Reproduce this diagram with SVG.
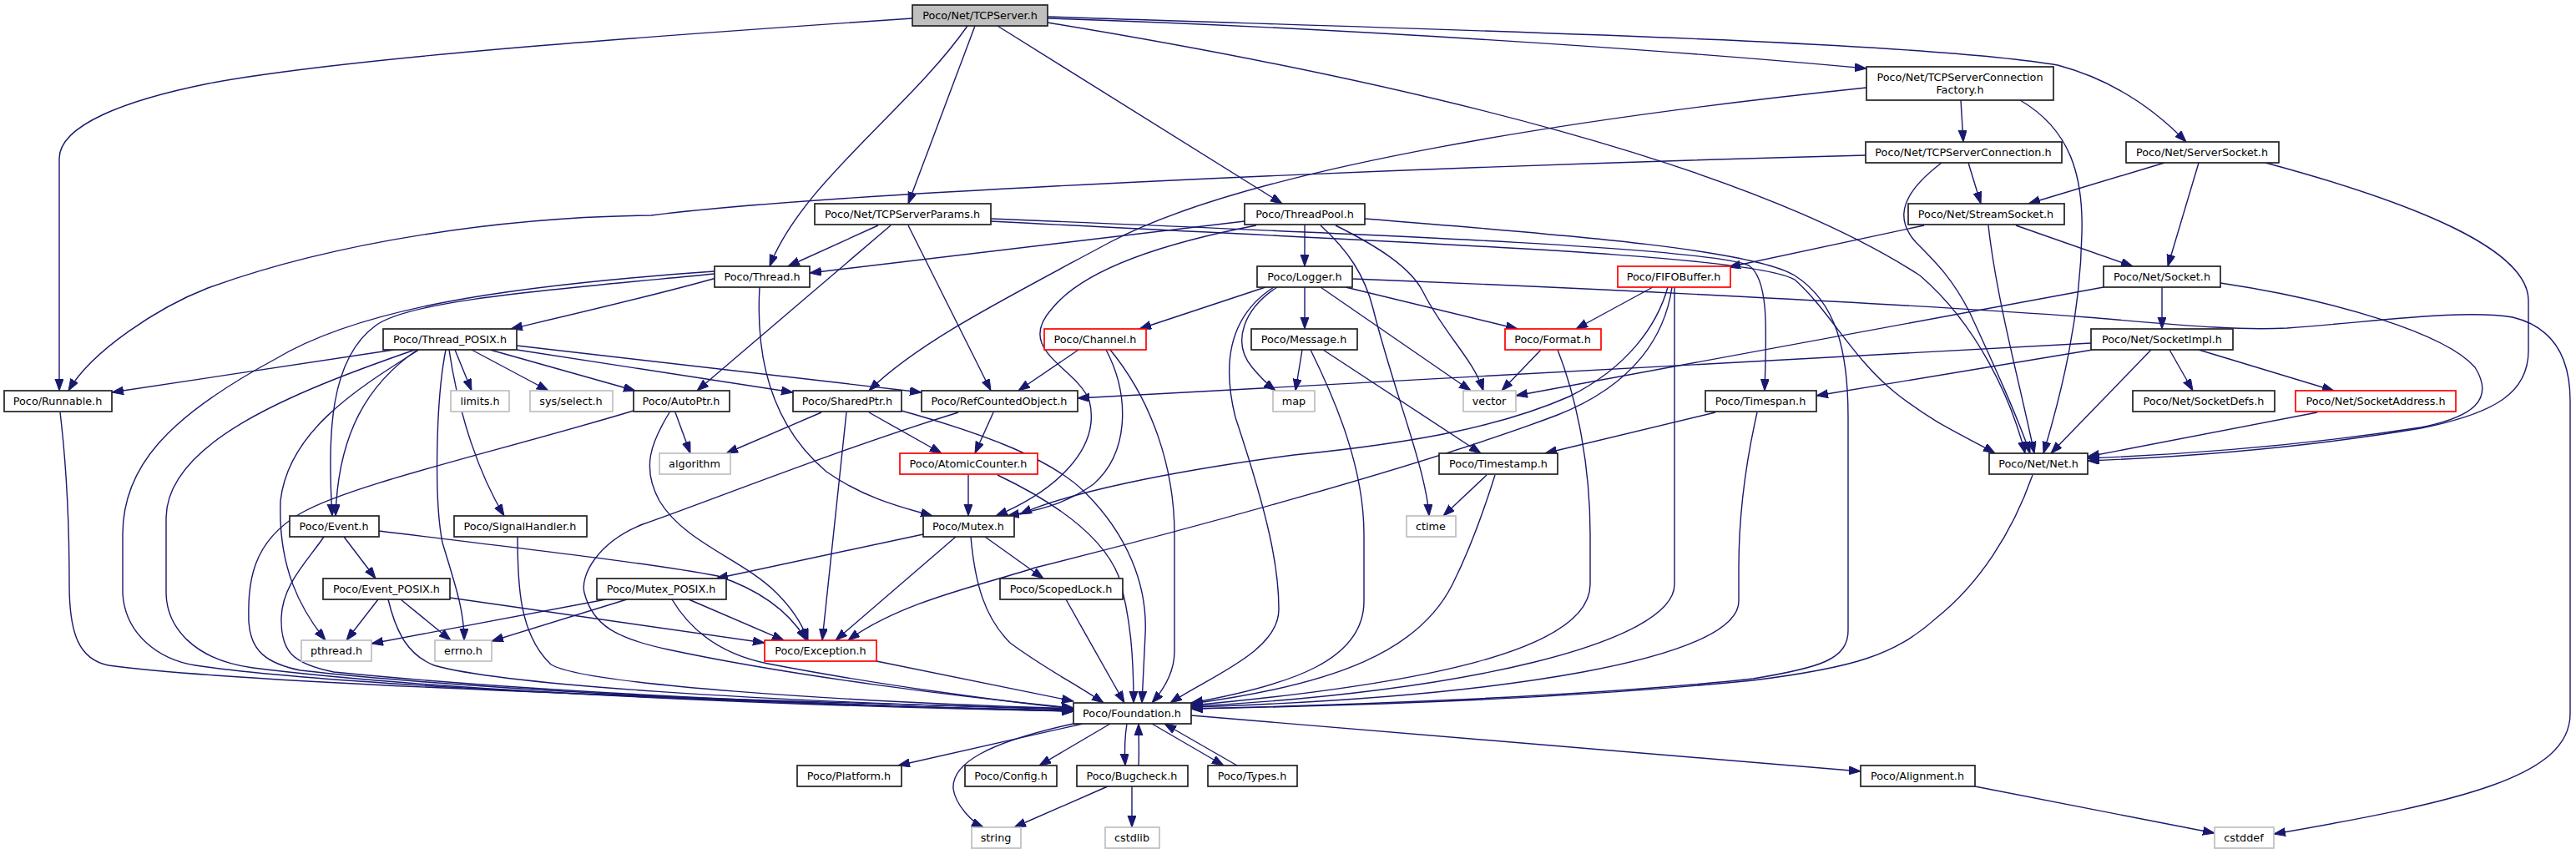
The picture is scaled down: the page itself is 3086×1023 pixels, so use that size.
<svg xmlns="http://www.w3.org/2000/svg" width="3086" height="1023" viewBox="0 0 3086 1023">
<style>
.nd rect{fill:#ffffff;stroke:#222222;stroke-width:1.7}
.nd.red rect{stroke:#ff0000}
.nd.sys rect{stroke:#bfbfbf}
.nd.root rect{fill:#bfbfbf}
.nd text{font-family:"DejaVu Sans","Liberation Sans",sans-serif;font-size:12.8px;fill:#000000;text-anchor:middle}
#edges path{fill:none;stroke:#191970;stroke-width:1.4;marker-end:url(#arr)}
</style>
<defs>
<marker id="arr" markerUnits="userSpaceOnUse" markerWidth="16" markerHeight="12" refX="14" refY="5" orient="auto">
<path d="M0,0 L14,5 L0,10 z" fill="#191970" stroke="#191970" stroke-width="1"/>
</marker>
</defs>
<rect x="0" y="0" width="3086" height="1023" fill="#ffffff"/>
<g id="edges">
<path d="M1093,22 C800,42 420,68 250,100 C150,120 71,150 71,190 L71,468"/>
<path d="M1159,31 C1090,130 960,220 922,319"/>
<path d="M1168,31 L1088,244"/>
<path d="M1195,31 L1536,244"/>
<path d="M1255,22 C1600,33 2000,60 2236,82"/>
<path d="M1255,20 C1800,38 2300,50 2465,78 C2540,98 2590,140 2619,170"/>
<path d="M1255,27 C1700,100 2100,200 2300,330 C2370,390 2410,480 2426,543"/>
<path d="M2349,120 L2352,170"/>
<path d="M2236,105 C1900,140 1500,200 1330,290 C1200,360 1100,410 1041,468"/>
<path d="M2420,120 C2480,155 2496,210 2494,280 C2492,380 2470,470 2448,543"/>
<path d="M2235,186 C1700,200 1000,230 780,258 C600,260 400,290 249,345 C190,368 110,420 82,468"/>
<path d="M2358,195 L2373,244"/>
<path d="M2326,195 C2280,230 2268,260 2295,290 C2320,315 2340,335 2360,375 C2390,440 2415,495 2432,543"/>
<path d="M2593,195 L2430,244"/>
<path d="M2634,195 L2597,319"/>
<path d="M2714,195 C2900,245 3029,300 3029,360 L3029,420 C3029,470 2990,495 2900,513 C2750,538 2600,548 2501,552"/>
<path d="M2305,270 L2071,320"/>
<path d="M2415,270 L2555,319"/>
<path d="M2382,270 C2392,360 2420,460 2437,543"/>
<path d="M1052,270 L944,319"/>
<path d="M1067,270 L835,468"/>
<path d="M1088,270 L1187,468"/>
<path d="M1187,262 C1700,283 2050,298 2095,318 C2120,335 2116,400 2114,468"/>
<path d="M1187,265 C1700,292 2100,305 2150,335 C2190,370 2220,430 2270,470 C2320,510 2360,525 2390,543"/>
<path d="M1491,265 L970,327"/>
<path d="M1563,269 L1563,319"/>
<path d="M1505,270 C1400,290 1300,320 1260,370 C1215,420 1290,440 1305,480 C1320,540 1260,590 1193,618"/>
<path d="M1600,270 C1650,295 1690,320 1705,350 C1730,400 1765,430 1777,468"/>
<path d="M1582,270 C1615,300 1635,330 1645,370 C1670,470 1708,560 1712,618"/>
<path d="M1635,262 C1900,283 2100,300 2150,330 C2200,362 2214,420 2214,500 L2214,755 C2214,790 2180,800 2100,813 C1900,835 1600,845 1427,849"/>
<path d="M858,333 C780,355 680,378 612,394"/>
<path d="M856,328 C650,348 490,360 450,390 C395,430 392,520 398,618"/>
<path d="M856,325 C600,343 430,370 330,430 C200,500 147,560 147,640 L147,711 C150,760 190,790 234,797 C400,822 900,843 1286,851"/>
<path d="M910,344 C905,430 925,510 990,565 C1040,600 1090,610 1117,618"/>
<path d="M472,419 L134,470"/>
<path d="M500,419 C440,460 405,520 402,618"/>
<path d="M497,419 C350,470 200,530 199,620 L199,711 C200,750 230,790 303,800 C500,825 900,845 1286,852"/>
<path d="M502,419 C420,470 345,520 336,600 C333,680 360,730 390,767"/>
<path d="M538,419 C550,500 575,570 604,618"/>
<path d="M534,419 C522,480 520,600 530,650 C545,700 556,730 556,767"/>
<path d="M545,419 L565,468"/>
<path d="M565,419 L657,468"/>
<path d="M587,419 L761,468"/>
<path d="M619,414 L1104,470"/>
<path d="M619,419 L950,470"/>
<path d="M72,494 C80,560 83,620 83,700 C83,760 95,790 130,797 C300,820 900,840 1286,849"/>
<path d="M809,494 L827,543"/>
<path d="M802,494 C780,530 768,560 790,600 C820,650 890,670 930,710 C950,730 962,750 968,767"/>
<path d="M759,492 C600,540 420,580 360,615 C300,650 297,700 298,745 C300,780 320,795 360,803 C600,830 1000,845 1286,852"/>
<path d="M984,494 L870,543"/>
<path d="M1041,494 L1128,543"/>
<path d="M1014,494 L985,767"/>
<path d="M1080,492 C1180,520 1260,550 1300,590 C1350,640 1375,700 1372,760 L1368,842"/>
<path d="M1190,494 L1168,543"/>
<path d="M1148,494 C1000,540 850,600 770,628 C715,650 695,690 700,710 C710,750 740,765 800,778 C950,810 1150,835 1286,848"/>
<path d="M1160,569 L1160,618"/>
<path d="M1195,569 C1260,600 1320,640 1340,690 C1355,740 1358,790 1358,842"/>
<path d="M1292,419 L1220,468"/>
<path d="M1325,419 C1352,470 1355,540 1310,580 C1275,605 1240,612 1207,618"/>
<path d="M1330,419 C1380,480 1407,560 1407,640 L1407,780 C1407,805 1395,825 1380,842"/>
<path d="M1516,344 L1365,394"/>
<path d="M1530,344 C1490,370 1475,410 1500,440 C1510,452 1518,460 1528,468"/>
<path d="M1526,344 C1470,380 1465,440 1480,500 C1520,620 1532,680 1532,730 C1532,780 1450,810 1402,842"/>
<path d="M1563,344 L1563,394"/>
<path d="M1582,344 L1762,468"/>
<path d="M1612,344 L1818,394"/>
<path d="M1620,334 C1900,345 2300,365 2500,380 C2620,390 2680,396 2740,393 C2850,385 2950,370 3010,380 C3060,392 3079,430 3079,480 L3079,855 C3079,930 2950,960 2724,999"/>
<path d="M1560,419 L1552,468"/>
<path d="M1585,419 L1774,543"/>
<path d="M1570,419 C1600,480 1634,560 1634,640 L1634,720 C1634,790 1550,820 1427,842"/>
<path d="M1846,419 L1799,468"/>
<path d="M1866,419 C1890,480 1905,560 1905,640 L1905,700 C1905,780 1700,820 1427,845"/>
<path d="M1980,344 L1888,394"/>
<path d="M1998,344 C1985,390 1950,440 1880,475 C1800,510 1700,530 1550,545 C1400,565 1280,590 1222,616"/>
<path d="M2003,344 C1995,400 1960,460 1866,497 C1700,560 1400,640 1240,680 C1180,700 1080,720 1016,767"/>
<path d="M2006,344 L2006,700 C2006,770 1750,830 1427,846"/>
<path d="M1781,569 L1729,618"/>
<path d="M1791,569 C1775,620 1760,660 1740,700 C1700,780 1600,820 1427,843"/>
<path d="M2055,494 L1851,543"/>
<path d="M2105,494 C2090,560 2083,620 2083,680 L2083,720 C2083,790 1800,835 1427,847"/>
<path d="M2435,569 C2410,640 2370,700 2320,740 C2270,785 2220,800 2100,815 C1900,835 1650,845 1427,849"/>
<path d="M2590,344 L2590,394"/>
<path d="M2520,344 L1816,474"/>
<path d="M2660,339 C2800,360 2930,400 2965,440 C2990,480 2960,500 2900,512 C2750,535 2600,545 2501,549"/>
<path d="M2505,411 L1291,477"/>
<path d="M2507,419 L2176,474"/>
<path d="M2577,419 L2457,543"/>
<path d="M2599,419 L2627,468"/>
<path d="M2634,419 L2796,468"/>
<path d="M2776,494 L2501,547"/>
<path d="M1050,792 L1286,840"/>
<path d="M412,643 L450,693"/>
<path d="M454,636 C650,660 780,675 860,690 C920,710 950,740 966,767"/>
<path d="M388,643 C370,670 338,700 337,740 C336,780 350,795 400,805 C650,830 1000,845 1286,852"/>
<path d="M453,718 L415,767"/>
<path d="M480,718 L540,767"/>
<path d="M539,716 L916,770"/>
<path d="M465,718 C475,760 490,785 520,797 C600,820 900,840 1286,850"/>
<path d="M620,643 C620,700 622,760 660,796 C700,820 1000,840 1286,849"/>
<path d="M1106,640 L858,693"/>
<path d="M1145,643 L1001,767"/>
<path d="M1180,643 L1250,693"/>
<path d="M1163,643 C1168,700 1180,740 1210,770 C1250,800 1290,820 1322,842"/>
<path d="M726,718 L445,771"/>
<path d="M751,718 L589,768"/>
<path d="M825,718 L939,767"/>
<path d="M805,718 C830,760 870,785 920,795 C1050,820 1200,840 1286,849"/>
<path d="M1277,718 L1347,842"/>
<path d="M1297,867 L1076,917"/>
<path d="M1330,867 L1245,917"/>
<path d="M1350,867 C1347,885 1347,900 1348,917"/>
<path d="M1364,917 C1365,900 1364,885 1364,867"/>
<path d="M1380,867 L1466,917"/>
<path d="M1482,917 L1395,867"/>
<path d="M1427,857 L2229,924"/>
<path d="M1290,866 C1180,890 1140,915 1142,945 C1145,965 1165,985 1178,991"/>
<path d="M1327,942 L1215,991"/>
<path d="M1356,942 L1356,991"/>
<path d="M2366,942 L2653,998"/>
</g>
<g id="n_TCPServer" class="nd root"><rect x="1093" y="6" width="162" height="25"/><text x="1174" y="23">Poco/Net/TCPServer.h</text></g>
<g id="n_Factory" class="nd"><rect x="2236" y="80" width="224" height="40"/><text x="2348" y="97">Poco/Net/TCPServerConnection</text><text x="2348" y="112">Factory.h</text></g>
<g id="n_TCPServerConnection" class="nd"><rect x="2235" y="170" width="235" height="25"/><text x="2352" y="187">Poco/Net/TCPServerConnection.h</text></g>
<g id="n_ServerSocket" class="nd"><rect x="2547" y="170" width="183" height="25"/><text x="2638" y="187">Poco/Net/ServerSocket.h</text></g>
<g id="n_TCPServerParams" class="nd"><rect x="976" y="244" width="211" height="25"/><text x="1081" y="261">Poco/Net/TCPServerParams.h</text></g>
<g id="n_ThreadPool" class="nd"><rect x="1491" y="244" width="144" height="25"/><text x="1563" y="261">Poco/ThreadPool.h</text></g>
<g id="n_StreamSocket" class="nd"><rect x="2286" y="244" width="187" height="25"/><text x="2379" y="261">Poco/Net/StreamSocket.h</text></g>
<g id="n_Thread" class="nd"><rect x="856" y="319" width="114" height="25"/><text x="913" y="336">Poco/Thread.h</text></g>
<g id="n_Logger" class="nd"><rect x="1506" y="319" width="114" height="25"/><text x="1563" y="336">Poco/Logger.h</text></g>
<g id="n_FIFOBuffer" class="nd red"><rect x="1938" y="319" width="135" height="25"/><text x="2005" y="336">Poco/FIFOBuffer.h</text></g>
<g id="n_Socket" class="nd"><rect x="2520" y="319" width="140" height="25"/><text x="2590" y="336">Poco/Net/Socket.h</text></g>
<g id="n_ThreadPOSIX" class="nd"><rect x="459" y="394" width="160" height="25"/><text x="539" y="411">Poco/Thread_POSIX.h</text></g>
<g id="n_Channel" class="nd red"><rect x="1251" y="394" width="122" height="25"/><text x="1312" y="411">Poco/Channel.h</text></g>
<g id="n_Message" class="nd"><rect x="1499" y="394" width="127" height="25"/><text x="1562" y="411">Poco/Message.h</text></g>
<g id="n_Format" class="nd red"><rect x="1803" y="394" width="115" height="25"/><text x="1860" y="411">Poco/Format.h</text></g>
<g id="n_SocketImpl" class="nd"><rect x="2505" y="394" width="170" height="25"/><text x="2590" y="411">Poco/Net/SocketImpl.h</text></g>
<g id="n_Runnable" class="nd"><rect x="5" y="468" width="129" height="25"/><text x="69" y="485">Poco/Runnable.h</text></g>
<g id="n_limits" class="nd sys"><rect x="540" y="468" width="70" height="25"/><text x="575" y="485">limits.h</text></g>
<g id="n_select" class="nd sys"><rect x="635" y="468" width="99" height="25"/><text x="684" y="485">sys/select.h</text></g>
<g id="n_AutoPtr" class="nd"><rect x="759" y="468" width="115" height="25"/><text x="816" y="485">Poco/AutoPtr.h</text></g>
<g id="n_SharedPtr" class="nd"><rect x="950" y="468" width="130" height="25"/><text x="1015" y="485">Poco/SharedPtr.h</text></g>
<g id="n_RefCountedObject" class="nd"><rect x="1104" y="468" width="187" height="25"/><text x="1197" y="485">Poco/RefCountedObject.h</text></g>
<g id="n_map" class="nd sys"><rect x="1525" y="468" width="50" height="25"/><text x="1550" y="485">map</text></g>
<g id="n_vector" class="nd sys"><rect x="1753" y="468" width="63" height="25"/><text x="1784" y="485">vector</text></g>
<g id="n_Timespan" class="nd"><rect x="2043" y="468" width="133" height="25"/><text x="2109" y="485">Poco/Timespan.h</text></g>
<g id="n_SocketDefs" class="nd"><rect x="2555" y="468" width="170" height="25"/><text x="2640" y="485">Poco/Net/SocketDefs.h</text></g>
<g id="n_SocketAddress" class="nd red"><rect x="2750" y="468" width="192" height="25"/><text x="2846" y="485">Poco/Net/SocketAddress.h</text></g>
<g id="n_algorithm" class="nd sys"><rect x="790" y="543" width="85" height="25"/><text x="832" y="560">algorithm</text></g>
<g id="n_AtomicCounter" class="nd red"><rect x="1078" y="543" width="165" height="25"/><text x="1160" y="560">Poco/AtomicCounter.h</text></g>
<g id="n_Timestamp" class="nd"><rect x="1724" y="543" width="142" height="25"/><text x="1795" y="560">Poco/Timestamp.h</text></g>
<g id="n_Net" class="nd"><rect x="2383" y="543" width="118" height="25"/><text x="2442" y="560">Poco/Net/Net.h</text></g>
<g id="n_Event" class="nd"><rect x="347" y="618" width="107" height="25"/><text x="400" y="635">Poco/Event.h</text></g>
<g id="n_SignalHandler" class="nd"><rect x="544" y="618" width="159" height="25"/><text x="623" y="635">Poco/SignalHandler.h</text></g>
<g id="n_Mutex" class="nd"><rect x="1106" y="618" width="109" height="25"/><text x="1160" y="635">Poco/Mutex.h</text></g>
<g id="n_ctime" class="nd sys"><rect x="1685" y="618" width="59" height="25"/><text x="1714" y="635">ctime</text></g>
<g id="n_EventPOSIX" class="nd"><rect x="387" y="693" width="152" height="25"/><text x="463" y="710">Poco/Event_POSIX.h</text></g>
<g id="n_MutexPOSIX" class="nd"><rect x="715" y="693" width="155" height="25"/><text x="792" y="710">Poco/Mutex_POSIX.h</text></g>
<g id="n_ScopedLock" class="nd"><rect x="1198" y="693" width="147" height="25"/><text x="1271" y="710">Poco/ScopedLock.h</text></g>
<g id="n_pthread" class="nd sys"><rect x="361" y="767" width="84" height="25"/><text x="403" y="784">pthread.h</text></g>
<g id="n_errno" class="nd sys"><rect x="521" y="767" width="68" height="25"/><text x="555" y="784">errno.h</text></g>
<g id="n_Exception" class="nd red"><rect x="916" y="767" width="134" height="25"/><text x="983" y="784">Poco/Exception.h</text></g>
<g id="n_Foundation" class="nd"><rect x="1286" y="842" width="141" height="25"/><text x="1356" y="859">Poco/Foundation.h</text></g>
<g id="n_Platform" class="nd"><rect x="955" y="917" width="125" height="25"/><text x="1017" y="934">Poco/Platform.h</text></g>
<g id="n_Config" class="nd"><rect x="1156" y="917" width="110" height="25"/><text x="1211" y="934">Poco/Config.h</text></g>
<g id="n_Bugcheck" class="nd"><rect x="1290" y="917" width="133" height="25"/><text x="1356" y="934">Poco/Bugcheck.h</text></g>
<g id="n_Types" class="nd"><rect x="1447" y="917" width="107" height="25"/><text x="1500" y="934">Poco/Types.h</text></g>
<g id="n_Alignment" class="nd"><rect x="2229" y="917" width="137" height="25"/><text x="2297" y="934">Poco/Alignment.h</text></g>
<g id="n_string" class="nd sys"><rect x="1164" y="991" width="59" height="25"/><text x="1193" y="1008">string</text></g>
<g id="n_cstdlib" class="nd sys"><rect x="1324" y="991" width="65" height="25"/><text x="1356" y="1008">cstdlib</text></g>
<g id="n_cstddef" class="nd sys"><rect x="2653" y="991" width="71" height="25"/><text x="2688" y="1008">cstddef</text></g>
</svg>
